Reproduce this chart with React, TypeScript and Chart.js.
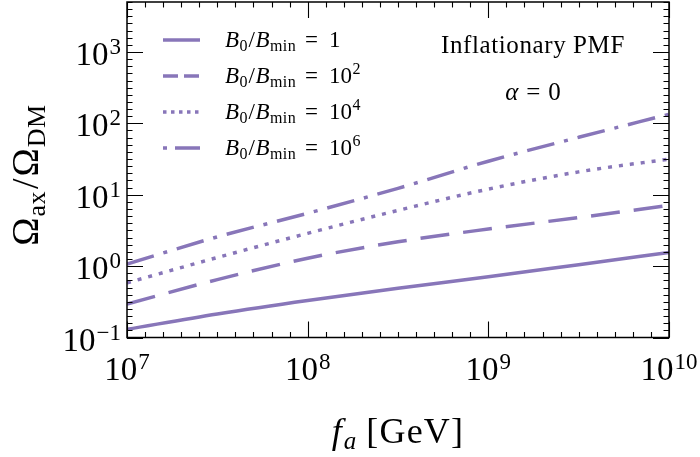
import React, { useEffect, useRef } from "react";
import { Chart, registerables } from "chart.js";

Chart.register(...registerables);

// ---- data ----
const faValues = [1e7, 3.162e7, 1e8, 3.162e8, 1e9, 3.162e9, 1e10];
const ratioB1 = [0.13, 0.214, 0.331, 0.49, 0.708, 1.047, 1.55];
const ratioB1e2 = [0.295, 0.646, 1.29, 2.19, 3.31, 4.79, 7.08];
const ratioB1e4 = [0.583, 1.32, 2.88, 6.03, 12.0, 20.9, 31.6];
const ratioB1e6 = [1.07, 2.57, 5.5, 12.3, 29.5, 63.8, 134];
const legendExponents = [0, 2, 4, 6];
const xMajorExponents = [7, 8, 9, 10];
const yMajorExponents = [-1, 0, 1, 2, 3];
const X_MIN = 1e7;
const X_MAX = 1e10;
const Y_MIN = 0.1;
const Y_MAX = Math.pow(10, 3.7);

const COLOR = "#8876b9";
const FONT = "'Liberation Serif', 'Times New Roman', serif";
const LW = 3.5;
const plotDashes = [[], [29, 14], [4, 7], [28, 10, 4, 10]];
const legendDashes = [[], [15, 6], [3.5, 4.5], [4, 8, 25, 8]];

function drawPower(
  ctx: CanvasRenderingContext2D,
  exp: number,
  x: number,
  baseline: number,
  align: "center" | "right"
) {
  const base = "10";
  const e = exp < 0 ? "\u2212" + Math.abs(exp) : String(exp);
  ctx.font = `33px ${FONT}`;
  const wb = ctx.measureText(base).width;
  ctx.font = `23px ${FONT}`;
  const we = ctx.measureText(e).width;
  const total = wb + 1 + we;
  const sx = align === "center" ? x - total / 2 : x - total;
  ctx.textAlign = "left";
  ctx.textBaseline = "alphabetic";
  ctx.font = `33px ${FONT}`;
  ctx.fillText(base, sx, baseline);
  ctx.font = `23px ${FONT}`;
  ctx.fillText(e, sx + wb + 1, baseline - 11);
}

type Seg = { t: string; font: string; dy?: number; gap?: number; ls?: number };

function segW(ctx: CanvasRenderingContext2D, s: Seg) {
  ctx.font = s.font;
  const ls = s.ls || 0;
  let w = 0;
  for (const ch of s.t) w += ctx.measureText(ch).width + ls;
  if (!ls) w = ctx.measureText(s.t).width;
  return w + (s.gap || 0);
}

function drawSegs(ctx: CanvasRenderingContext2D, segs: Seg[], x: number, y: number) {
  let cx = x;
  ctx.textAlign = "left";
  ctx.textBaseline = "alphabetic";
  for (const s of segs) {
    ctx.font = s.font;
    const ls = s.ls || 0;
    if (ls) {
      let px = cx;
      for (const ch of s.t) {
        ctx.fillText(ch, px, y + (s.dy || 0));
        px += ctx.measureText(ch).width + ls;
      }
    } else {
      ctx.fillText(s.t, cx, y + (s.dy || 0));
    }
    cx += segW(ctx, s);
  }
  return cx;
}

function segsWidth(ctx: CanvasRenderingContext2D, segs: Seg[]) {
  let w = 0;
  for (const s of segs) w += segW(ctx, s);
  return w;
}

const decorPlugin = {
  id: "decor",
  afterDraw(chart: any) {
    const ctx: CanvasRenderingContext2D = chart.ctx;
    const { left, right, top, bottom } = chart.chartArea;
    const xs = chart.scales.x;
    const ys = chart.scales.y;
    ctx.save();
    ctx.strokeStyle = "#000";
    ctx.fillStyle = "#000";

    // ticks (inward, on all four sides), 10 subdivisions per decade
    ctx.lineWidth = 1.1;
    ctx.beginPath();
    for (let k = 70; k <= 100; k++) {
      const px = Math.round(xs.getPixelForValue(Math.pow(10, k / 10))) + 0.5;
      const len = k % 10 === 0 ? 16 : 5.5;
      ctx.moveTo(px, bottom);
      ctx.lineTo(px, bottom - len);
      ctx.moveTo(px, top);
      ctx.lineTo(px, top + len);
    }
    for (let k = -10; k <= 37; k++) {
      const py = Math.round(ys.getPixelForValue(Math.pow(10, k / 10))) + 0.5;
      const len = k % 10 === 0 ? 16 : 5.5;
      ctx.moveTo(left, py);
      ctx.lineTo(left + len, py);
      ctx.moveTo(right, py);
      ctx.lineTo(right - len, py);
    }
    ctx.stroke();

    // frame
    ctx.lineWidth = 1.5;
    ctx.strokeRect(left, top, right - left, bottom - top);

    // tick labels
    for (const e of xMajorExponents) {
      const px = xs.getPixelForValue(Math.pow(10, e));
      drawPower(ctx, e, px, 380, "center");
    }
    for (const e of yMajorExponents) {
      const py = ys.getPixelForValue(Math.pow(10, e));
      drawPower(ctx, e, 121, py + 13, "right");
    }

    // x title: f_a [GeV]
    const xt: Seg[] = [
      { t: "f", font: `italic 36px ${FONT}`, gap: 2 },
      { t: "a", font: `italic 25px ${FONT}`, dy: 6, gap: 10 },
      { t: "[GeV]", font: `36px ${FONT}`, ls: 1.2 },
    ];
    const xw = segsWidth(ctx, xt);
    drawSegs(ctx, xt, (left + right) / 2 - xw / 2, 443);

    // y title: Omega_ax / Omega_DM
    const yt: Seg[] = [
      { t: "\u03A9", font: `38px ${FONT}`, gap: 1 },
      { t: "ax", font: `26px ${FONT}`, dy: 7, gap: 2, ls: 0.5 },
      { t: "/", font: `38px ${FONT}`, gap: 2 },
      { t: "\u03A9", font: `38px ${FONT}`, gap: 1 },
      { t: "DM", font: `26px ${FONT}`, dy: 7, ls: 0.5 },
    ];
    const yw = segsWidth(ctx, yt);
    ctx.save();
    ctx.translate(38, 175 + yw / 2);
    ctx.rotate(-Math.PI / 2);
    drawSegs(ctx, yt, 0, 0);
    ctx.restore();

    // legend
    for (let i = 0; i < legendExponents.length; i++) {
      const ly = 40 + i * 36;
      ctx.save();
      ctx.strokeStyle = COLOR;
      ctx.lineWidth = LW;
      ctx.lineCap = "butt";
      ctx.setLineDash(legendDashes[i]);
      ctx.beginPath();
      ctx.moveTo(163, ly);
      ctx.lineTo(200, ly);
      ctx.stroke();
      ctx.restore();

      ctx.fillStyle = "#000";
      const segs: Seg[] = [
        { t: "B", font: `italic 23px ${FONT}`, gap: 0.5 },
        { t: "0", font: `16px ${FONT}`, dy: 4, gap: 1 },
        { t: "/", font: `23px ${FONT}`, gap: 0.5 },
        { t: "B", font: `italic 23px ${FONT}`, gap: 0.5 },
        { t: "min", font: `16px ${FONT}`, dy: 4, gap: 9, ls: 0.4 },
        { t: "=", font: `23px ${FONT}`, gap: 11 },
      ];
      const bx = drawSegs(ctx, segs, 225, ly + 7);
      const e = legendExponents[i];
      if (e === 0) {
        drawSegs(ctx, [{ t: "1", font: `23px ${FONT}` }], bx, ly + 7);
      } else {
        drawSegs(
          ctx,
          [
            { t: "10", font: `23px ${FONT}`, gap: 0.5 },
            { t: String(e), font: `16px ${FONT}`, dy: -9 },
          ],
          bx,
          ly + 7
        );
      }
    }

    // annotations
    ctx.fillStyle = "#000";
    const a1: Seg[] = [{ t: "Inflationary PMF", font: `25px ${FONT}`, ls: 0.6 }];
    const w1 = segsWidth(ctx, a1);
    drawSegs(ctx, a1, 533 - w1 / 2, 53);
    const a2: Seg[] = [
      { t: "\u03B1", font: `italic 25px ${FONT}`, gap: 8 },
      { t: "=", font: `25px ${FONT}`, gap: 8 },
      { t: "0", font: `25px ${FONT}` },
    ];
    const w2 = segsWidth(ctx, a2);
    drawSegs(ctx, a2, 533 - w2 / 2, 100);

    ctx.restore();
  },
};

function mk(values: number[], dash: number[]) {
  return {
    data: faValues.map((x, i) => ({ x, y: values[i] })),
    borderColor: COLOR,
    backgroundColor: COLOR,
    borderWidth: LW,
    borderDash: dash,
    borderCapStyle: "butt" as const,
    pointRadius: 0,
    cubicInterpolationMode: "monotone" as const,
    fill: false,
  };
}

export default function App() {
  const ref = useRef<HTMLCanvasElement | null>(null);
  useEffect(() => {
    document.body.style.margin = "0";
    const canvas = ref.current;
    if (!canvas) return;
    const chart = new Chart(canvas, {
      type: "line",
      data: {
        datasets: [
          mk(ratioB1, plotDashes[0]),
          mk(ratioB1e2, plotDashes[1]),
          mk(ratioB1e4, plotDashes[2]),
          mk(ratioB1e6, plotDashes[3]),
        ],
      },
      options: {
        animation: false,
        responsive: false,
        devicePixelRatio: 1,
        layout: { padding: { left: 127, right: 31, top: 2, bottom: 119.5 } },
        plugins: { legend: { display: false }, tooltip: { enabled: false } },
        scales: {
          x: { type: "logarithmic", min: X_MIN, max: X_MAX, display: false },
          y: { type: "logarithmic", min: Y_MIN, max: Y_MAX, display: false },
        },
      },
      plugins: [decorPlugin],
    });
    return () => chart.destroy();
  }, []);
  return (
    <div style={{ width: 700, height: 457 }}>
      <canvas ref={ref} width={700} height={457} style={{ width: 700, height: 457, display: "block" }} />
    </div>
  );
}
